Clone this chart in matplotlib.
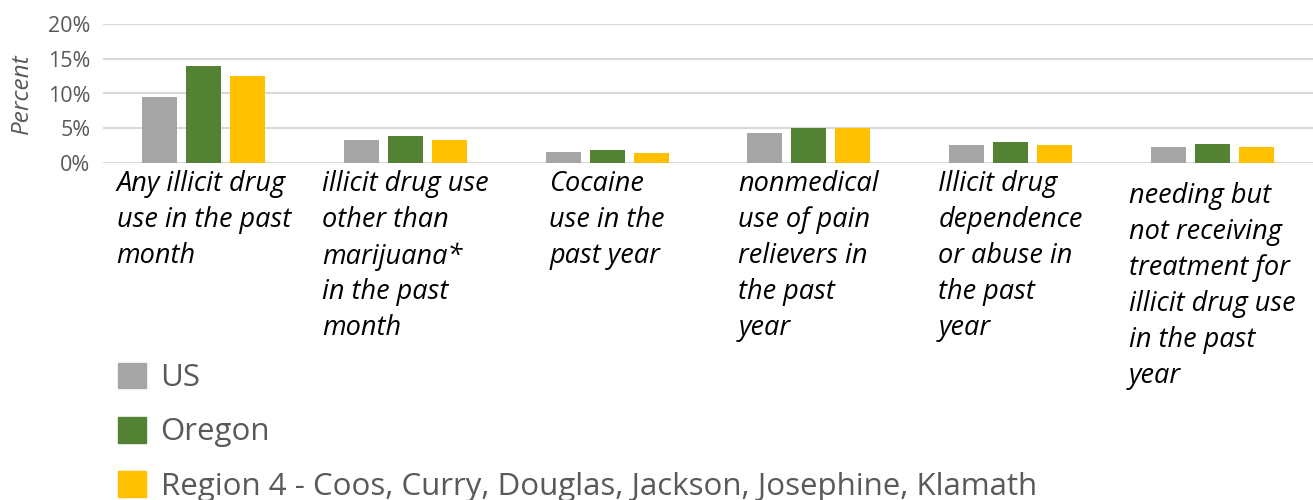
import numpy as np
import matplotlib.pyplot as plt
from matplotlib.patches import Patch

# Data
categories = [
    'Any illicit drug\nuse in the past\nmonth',
    'illicit drug use\nother than\nmarijuana*\nin the past\nmonth',
    'Cocaine\nuse in the\npast year',
    'nonmedical\nuse of pain\nrelievers in\nthe past\nyear',
    'Illicit drug\ndependence\nor abuse in\nthe past\nyear',
    'needing but\nnot receiving\ntreatment for\nillicit drug use\nin the past\nyear',
]
series_names = ['US', 'Oregon', 'Region 4 - Coos, Curry, Douglas, Jackson, Josephine, Klamath']
us = [9.5, 3.3, 1.6, 4.3, 2.6, 2.3]
oregon = [14.0, 3.9, 1.9, 5.0, 3.0, 2.7]
region4 = [12.5, 3.3, 1.4, 5.0, 2.6, 2.3]
colors = ['#A5A5A5', '#548235', '#FFC000']

plt.rcParams['font.family'] = ['Open Sans', 'DejaVu Sans']
text_color = '#595959'

fig = plt.figure(figsize=(13.13, 5), dpi=100)
ax = fig.add_axes([0.0784, 0.674, 0.9216, 0.278])

x = np.arange(len(categories))
width = 0.174
step = 0.218
for k, vals in enumerate([us, oregon, region4]):
    ax.bar(x + (k - 1) * step, vals, width, color=colors[k], zorder=3)

ax.set_xlim(-0.5, len(categories) - 0.5)
ax.set_ylim(0, 20)
ax.set_yticks([0, 5, 10, 15, 20])
ax.set_yticklabels(['0%', '5%', '10%', '15%', '20%'], fontsize=15.5, color=text_color)
ax.tick_params(axis='y', length=0, pad=9)
ax.set_xticks([])
ax.grid(axis='y', color='#D9D9D9', linewidth=1.5, zorder=0)
for s in ax.spines.values():
    s.set_visible(False)

ax.set_ylabel('Percent', fontsize=17.5, style='italic', color=text_color, labelpad=10)

# category labels (Excel-like wrapped, left-aligned lines)
for i, lab in enumerate(categories):
    off = -0.05 if i < len(categories) - 1 else -0.14
    ax.text(i, off, lab, transform=ax.get_xaxis_transform(), ha='center', va='top',
            multialignment='left', fontsize=19.5, style='italic', color='black',
            linespacing=1.38)

handles = [Patch(color=c) for c in colors]
fig.legend(handles, series_names, loc='upper left', bbox_to_anchor=(0.0806, 0.3),
           frameon=False, fontsize=22.5, labelcolor=text_color, handlelength=0.9,
           handleheight=0.9, handletextpad=0.45, labelspacing=0.75, borderaxespad=0)

fig.savefig('out.png', dpi=100)
